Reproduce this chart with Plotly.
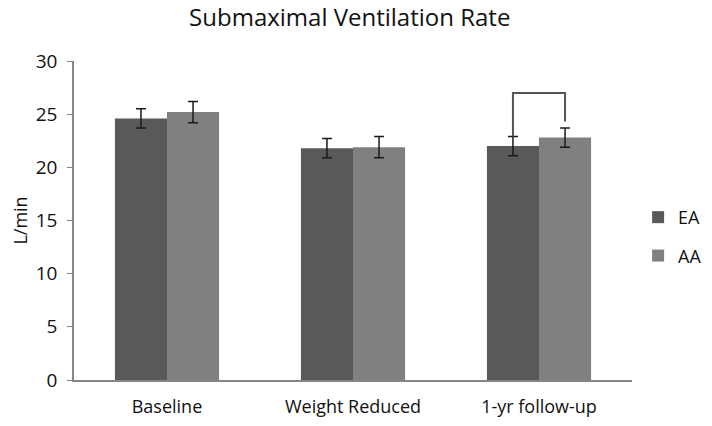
import plotly.graph_objects as go

categories = ["Baseline", "Weight Reduced", "1-yr follow-up"]
ea_values = [24.6, 21.8, 22.0]
ea_errors = [0.9, 0.9, 0.9]
aa_values = [25.2, 21.9, 22.8]
aa_errors = [1.0, 1.0, 0.9]
y_ticks = [0, 5, 10, 15, 20, 25, 30]

# significance bracket on the 1-yr follow-up group (data units)
bracket_top = 27.0
bracket_left_end = 22.9
bracket_right_end = 24.3
bracket_cat_index = 2
bar_offset = 0.14

font_family = "Open Sans, Carlito, Calibri, sans-serif"

fig = go.Figure()
fig.add_trace(go.Bar(
    name="EA", x=categories, y=ea_values,
    marker=dict(color="#595959", line=dict(width=0)),
    error_y=dict(type="data", array=ea_errors, color="#1a1a1a", thickness=1.5, width=5),
    legendgroup="ea",
))
fig.add_trace(go.Bar(
    name="AA", x=categories, y=aa_values,
    marker=dict(color="#808080", line=dict(width=0)),
    error_y=dict(type="data", array=aa_errors, color="#1a1a1a", thickness=1.5, width=5),
    legendgroup="aa",
))

xl = bracket_cat_index - bar_offset
xr = bracket_cat_index + bar_offset
fig.add_shape(type="path", xref="x", yref="y",
              path=f"M {xl} {bracket_left_end} L {xl} {bracket_top} L {xr} {bracket_top} L {xr} {bracket_right_end}",
              line=dict(color="#555555", width=2))

fig.update_layout(
    width=712, height=426,
    margin=dict(l=66, r=88, t=53, b=54, autoexpand=False),
    paper_bgcolor="white", plot_bgcolor="white",
    barmode="group", bargap=0.44, bargroupgap=0,
    title=dict(text="Submaximal Ventilation Rate", x=0.48, xanchor="center",
               y=0.998, yanchor="top", pad=dict(t=0, b=0),
               font=dict(family=font_family, size=24, color="#111111")),
    font=dict(family=font_family, size=18, color="#111111"),
    showlegend=True,
    legend=dict(xref="container", x=0.885, xanchor="left", y=0.45, yanchor="middle",
                font=dict(size=18), tracegroupgap=12, traceorder="grouped",
                itemwidth=30, bgcolor="rgba(0,0,0,0)"),
    xaxis=dict(showline=True, linecolor="#868686", linewidth=1.5, ticks="",
               showgrid=False, tickfont=dict(size=18), ticklabelstandoff=10,
               automargin=False),
    yaxis=dict(range=[0, 30], tickvals=y_ticks, showline=True, linecolor="#868686",
               linewidth=1.5, ticks="outside", ticklen=5, tickcolor="#868686",
               showgrid=False, zeroline=False, tickfont=dict(size=19),
               ticklabelstandoff=6, automargin=False,
               title=dict(text="L/min", font=dict(size=18), standoff=8)),
)

fig.write_html("out.html")
